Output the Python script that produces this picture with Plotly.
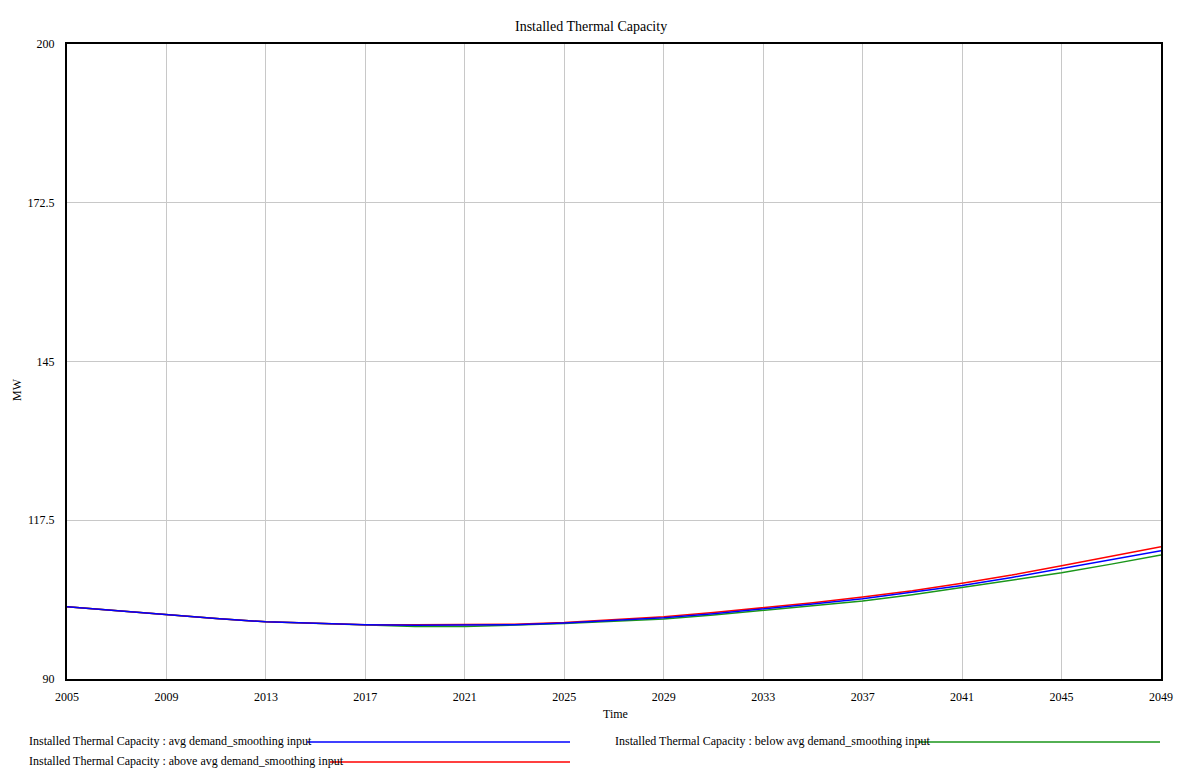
import plotly.graph_objects as go

years = [2005, 2007, 2009, 2011, 2013, 2015, 2017, 2019, 2021, 2023, 2025, 2027,
         2029, 2031, 2033, 2035, 2037, 2039, 2041, 2043, 2045, 2047, 2049]

avg_input = [102.5, 101.8, 101.1, 100.5, 99.9, 99.6, 99.4, 99.3, 99.3, 99.4, 99.7, 100.1,
             100.6, 101.3, 102.1, 103.0, 103.9, 105.0, 106.2, 107.6, 109.1, 110.6, 112.2]
above_avg_input = [102.5, 101.8, 101.1, 100.5, 99.9, 99.6, 99.4, 99.4, 99.4, 99.5, 99.8, 100.3,
                   100.8, 101.5, 102.3, 103.2, 104.2, 105.3, 106.6, 108.0, 109.6, 111.2, 112.9]
below_avg_input = [102.5, 101.8, 101.1, 100.5, 99.9, 99.6, 99.4, 99.1, 99.1, 99.3, 99.6, 100.0,
                   100.4, 101.1, 101.9, 102.7, 103.5, 104.6, 105.9, 107.1, 108.4, 109.9, 111.5]

series_names = [
    "Installed Thermal Capacity : avg demand_smoothing input",
    "Installed Thermal Capacity : above avg demand_smoothing input",
    "Installed Thermal Capacity : below avg demand_smoothing input",
]
colors = ["#0000ff", "#ff0000", "#1a961a"]

x_ticks = list(range(2005, 2050, 4))
y_ticks = [90, 117.5, 145, 172.5, 200]
y_tick_text = ["90", "117.5", "145", "172.5", "200"]

FONT = "Liberation Serif"

fig = go.Figure()
for name, vals, col in [(series_names[2], below_avg_input, colors[2]),
                        (series_names[1], above_avg_input, colors[1]),
                        (series_names[0], avg_input, colors[0])]:
    fig.add_trace(go.Scatter(x=years, y=vals, mode="lines", name=name,
                             line=dict(color=col, width=1.5), showlegend=False))

# page has an 8px body margin; compensate so the plot lands where the reference has it
OFF = 8
W, H = 1183, 772
PL, PR, PT, PB = 67, 1161, 44, 679  # plot area in window pixels
pw, ph = PR - PL, PB - PT

def px(x):
    return (x - PL) / pw

def py(y):
    return (PB - y) / ph

annotations = [
    dict(text="Installed Thermal Capacity", x=px(591), xref="paper", y=py(27), yref="paper",
         showarrow=False, font=dict(family=FONT, size=14, color="black"),
         xanchor="center", yanchor="middle"),
    dict(text="MW", x=px(17), xref="paper", y=py(390), yref="paper", textangle=-90,
         showarrow=False, font=dict(family=FONT, size=12, color="black"),
         xanchor="center", yanchor="middle"),
    dict(text="Time", x=px(615), xref="paper", y=py(714), yref="paper",
         showarrow=False, font=dict(family=FONT, size=12, color="black"),
         xanchor="center", yanchor="middle"),
]
shapes = []
legend_items = [
    (series_names[0], colors[0], 27, 741, 307, 570),
    (series_names[1], colors[1], 27, 761, 330, 570),
    (series_names[2], colors[2], 613, 741, 918, 1160),
]
for name, col, tx, ty, x0, x1 in legend_items:
    annotations.append(dict(text=name, x=px(tx), xref="paper", y=py(ty), yref="paper",
                            showarrow=False, font=dict(family=FONT, size=12, color="black"),
                            xanchor="left", yanchor="middle"))
    shapes.append(dict(type="line", xref="paper", yref="paper",
                       x0=px(x0), x1=px(x1), y0=py(ty + 1), y1=py(ty + 1),
                       line=dict(color=col, width=1.5)))

fig.update_layout(
    width=W - OFF, height=H - OFF,
    margin=dict(l=PL - OFF, r=W - PR, t=PT - OFF, b=H - PB, autoexpand=False),
    paper_bgcolor="white", plot_bgcolor="white",
    font=dict(family=FONT, size=12, color="black"),
    annotations=annotations, shapes=shapes,
    xaxis=dict(range=[2005, 2049], tickvals=x_ticks, ticks="", showgrid=True,
               gridcolor="#c8c8c8", gridwidth=1, showline=True, linecolor="black",
               linewidth=2, mirror=True, zeroline=False, ticklabelstandoff=6,
               tickfont=dict(family=FONT, size=12)),
    yaxis=dict(range=[90, 200], tickvals=y_ticks, ticktext=y_tick_text, ticks="",
               showgrid=True, gridcolor="#c8c8c8", gridwidth=1, showline=True,
               linecolor="black", linewidth=2, mirror=True, zeroline=False,
               ticklabelstandoff=8, tickfont=dict(family=FONT, size=12)),
)

fig.write_html("out.html")
